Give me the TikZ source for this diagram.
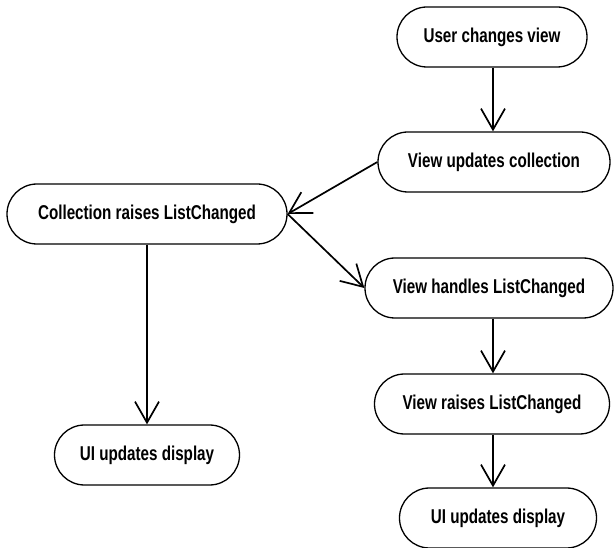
\documentclass[tikz,border=0pt]{standalone}
\usepackage{fontspec}
\setmainfont[FakeStretch=0.76]{Liberation Sans}
\usetikzlibrary{arrows.meta,shapes.misc}
\tikzset{
  state/.style={draw, line width=1.3pt, rounded rectangle, minimum height=60pt, inner sep=0pt, font=\bfseries\fontsize{20}{23}\selectfont},
  flow/.style={line width=1.7pt, -{Straight Barb[length=21pt,width=24pt,line width=1.7pt]}}
}
\begin{document}
\begin{tikzpicture}[x=1pt,y=-1pt]
\useasboundingbox (0,0) rectangle (614,548);
\node[state, minimum width=190pt] (u) at (492,37) {User changes view};
\node[state, minimum width=232pt] (vc) at (494,162) {View updates collection};
\node[state, minimum width=280pt] (cr) at (147,214) {Collection raises ListChanged};
\node[state, minimum width=248pt] (vh) at (489,288) {View handles ListChanged};
\node[state, minimum width=235pt] (vr) at (492,404) {View raises ListChanged};
\node[state, minimum width=197pt] (ur) at (498,518) {UI updates display};
\node[state, minimum width=185pt] (ul) at (147,455) {UI updates display};
\draw[flow] (u.south -| 493,0) -- (vc.north -| 493,0);
\draw[flow] (vc.west) -- (cr.east);
\draw[flow] (cr.east) -- (vh.west);
\draw[flow] (vh.south -| 493,0) -- (vr.north -| 493,0);
\draw[flow] (vr.south -| 493,0) -- (ur.north -| 493,0);
\draw[flow] (cr.south) -- (ul.north);
\end{tikzpicture}
\end{document}
